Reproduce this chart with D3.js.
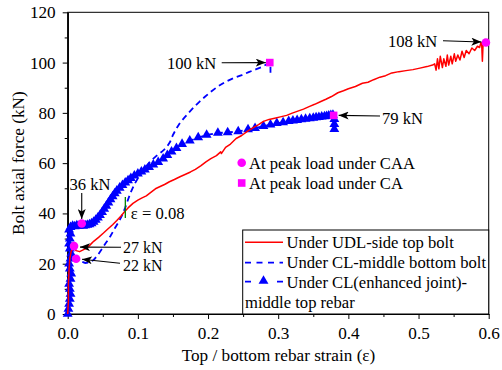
<!DOCTYPE html>
<html>
<head>
<meta charset="utf-8">
<script src="https://cdn.jsdelivr.net/npm/d3@7"></script>
<style>
  html, body { margin: 0; padding: 0; background: #fff; }
  svg { display: block; }
  text { font-family: 'Liberation Serif', 'Times New Roman', serif; fill: #000; }
</style>
</head>
<body>
<svg id="chart" width="502" height="370"></svg>
<script>
// Bolt axial force (kN) against top / bottom rebar strain
const xTicks = [0, 0.1, 0.2, 0.3, 0.4, 0.5, 0.6];
const yTicks = [0, 20, 40, 60, 80, 100, 120];

// Under UDL - side top bolt  [strain, force]
const udlTopBolt = [
  [0.000,0],[0.001,5],[0.001,12],[0.002,18],[0.003,22],[0.005,25],[0.008,26.2],[0.012,25.2],
  [0.017,24.8],[0.022,25.5],[0.027,26.2],[0.032,27.5],[0.037,28.9],[0.044,30.5],[0.051,32.2],
  [0.058,34],[0.064,35.5],[0.070,37.2],[0.076,39],[0.081,40.7],[0.086,42.2],[0.093,44],
  [0.100,45.3],[0.106,46.2],[0.112,47],[0.118,48.3],[0.125,49.8],[0.131,50.6],[0.138,51.5],
  [0.145,52.6],[0.152,53.5],[0.160,54.6],[0.168,55.6],[0.175,56.5],[0.182,57.5],[0.190,59],
  [0.197,60.5],[0.204,61.8],[0.212,63],[0.218,64.5],[0.219,63.8],[0.225,66.3],[0.232,67.6],
  [0.240,69.8],[0.248,71],[0.256,72.6],[0.264,74],[0.272,75.3],[0.279,76.6],[0.287,77.4],
  [0.295,77.9],[0.303,78.4],[0.312,79],[0.320,79.9],[0.328,80.7],[0.336,81.5],[0.344,82.5],
  [0.352,83.4],[0.360,84.4],[0.368,85.4],[0.376,86.5],[0.385,88],[0.393,88.8],[0.400,89.6],
  [0.410,90.5],[0.420,91.8],[0.428,92.2],[0.436,93.2],[0.445,94.2],[0.453,94.8],[0.462,95.9],
  [0.472,96.4],[0.482,96.8],[0.492,97.2],[0.502,97.8],[0.512,98.4],[0.520,99],
  [0.523,99.5],[0.525,97],[0.527,101.5],[0.529,97.5],[0.531,102.5],[0.534,98],[0.536,101.5],
  [0.539,98.5],[0.541,103],[0.543,99],[0.546,102.5],[0.548,99.5],[0.551,103.5],[0.553,100.5],
  [0.556,103],[0.559,101],[0.562,104.5],[0.565,102],[0.568,104.8],[0.572,103.5],
  [0.576,105.8],[0.580,104.8],[0.584,106.5],[0.587,106],[0.589,108],[0.590,107.5],[0.591,100.5],
  [0.592,107.5],[0.596,108]
];

// Under CL - middle bottom bolt
const clBottomBolt = [
  [0.000,0],[0.001,6],[0.002,12],[0.003,18],[0.004,22],[0.007,23],[0.012,22],[0.018,21],
  [0.025,20.3],[0.031,20.5],[0.037,21.5],[0.043,23.5],[0.049,26],[0.055,28.5],[0.061,31],
  [0.067,34],[0.073,36.8],[0.078,39.5],[0.082,42.3],[0.086,45.5],[0.090,48.5],[0.095,51.5],
  [0.100,54],[0.106,56.5],[0.112,58.8],[0.118,60.8],[0.126,62.8],[0.134,64.5],[0.141,66.3],
  [0.146,68.5],[0.150,71.2],[0.155,73.8],[0.160,76],[0.166,78],[0.173,80.2],[0.180,82.3],
  [0.188,84.5],[0.196,86.5],[0.205,88.6],[0.214,90.5],[0.224,92.2],[0.236,93.8],[0.248,95],
  [0.258,96.2],[0.268,97.3],[0.276,98.2],[0.283,99.2],[0.287,100],[0.289,98.5],[0.289,96]
];

// Under CL (enhanced joint) - middle top rebar
const clEnhancedTopRebar = [
  [0.000,0],[0.001,2],[0.002,4],[0.003,6],[0.004,8],[0.003,10],[0.002,12],[0.004,14],
  [0.005,16],[0.003,18],[0.002,20],[0.004,22],[0.005,24],[0.003,26],[0.002,28],[0.003,30],
  [0.004,32],[0.002,33.5],[0.004,34.5],[0.007,35],[0.010,34.8],[0.013,35.2],[0.016,35],
  [0.019,35.4],[0.022,35],[0.025,35.2],[0.028,35.4],[0.031,35.6],[0.034,36],[0.037,36.6],
  [0.040,37.4],[0.043,38.3],[0.046,39.3],[0.049,40.5],[0.052,41.8],[0.055,43],[0.058,44.3],
  [0.061,45.6],[0.064,46.8],[0.067,48],[0.070,49],[0.074,50.2],[0.078,51.2],[0.082,52.2],
  [0.086,53.1],[0.090,54],[0.095,55],[0.100,55.8],[0.105,56.6],[0.110,57.4],[0.116,58.4],
  [0.122,59.4],[0.129,60.4],[0.136,61.8],[0.142,63.2],[0.148,64.6],[0.155,66],[0.163,67.6],
  [0.174,68.9],[0.186,70.2],[0.198,71.2],[0.214,72],[0.228,72.2],[0.243,72.6],[0.257,73.4],
  [0.267,73.9],[0.279,74.7],[0.289,75.3],[0.298,75.9],[0.307,76.2],[0.315,76.7],[0.321,76.9],
  [0.327,77.1],[0.333,77.4],[0.339,77.6],[0.345,77.8],[0.350,78],[0.354,78.2],[0.358,78.3],
  [0.362,78.5],[0.366,78.6],[0.369,78.7],[0.372,78.9],[0.375,79.1],[0.378,79.2],[0.380,77.5],
  [0.380,75.5],[0.380,73.5]
];

// Peak-load points
const peakCAA = [[0.020,36],[0.009,27],[0.012,22],[0.596,108]];
const peakCA = [[0.288,100],[0.379,79]];

const seriesLabels = ["Under UDL-side top bolt", "Under CL-middle bottom bolt",
                      "Under CL(enhanced joint)-", "middle top rebar"];
const peakLabels = ["At peak load under CAA", "At peak load under CA"];

const plot = { left: 67.7, right: 488.7, top: 12.3, bottom: 314 };
const svg = d3.select("#chart");
const FS = 16.6;

const x = d3.scaleLinear().domain([0, 0.6]).range([plot.left, plot.right]);
const y = d3.scaleLinear().domain([0, 120]).range([plot.bottom, plot.top]);

const RED = "#ff0000", BLUE = "#0000ff", MAG = "#ff00ff";

// arrowhead
svg.append("defs").append("marker")
  .attr("id", "arrow").attr("viewBox", "0 0 10 8")
  .attr("refX", 10).attr("refY", 4)
  .attr("markerWidth", 10).attr("markerHeight", 8)
  .attr("markerUnits", "userSpaceOnUse").attr("orient", "auto")
  .append("path").attr("d", "M0,0L10,4L0,8L2.5,4Z").attr("fill", "#000");

// frame
svg.append("rect")
  .attr("x", plot.left).attr("y", plot.top)
  .attr("width", plot.right - plot.left).attr("height", plot.bottom - plot.top)
  .attr("fill", "none").attr("stroke", "#000").attr("stroke-width", 1);

// axes
const xAxis = svg.append("g").attr("transform", `translate(0,${plot.bottom})`)
  .call(d3.axisBottom(x).tickValues(xTicks).tickFormat(d3.format(".1f"))
    .tickSize(5).tickSizeOuter(0).tickPadding(7.5));
const xMinor = svg.append("g").attr("transform", `translate(0,${plot.bottom})`)
  .call(d3.axisBottom(x).tickValues(d3.range(0.05, 0.6, 0.1)).tickFormat("")
    .tickSize(3).tickSizeOuter(0));
const yAxis = svg.append("g").attr("transform", `translate(${plot.left},0)`)
  .call(d3.axisLeft(y).tickValues(yTicks).tickSize(5).tickSizeOuter(0).tickPadding(7));
const yMinor = svg.append("g").attr("transform", `translate(${plot.left},0)`)
  .call(d3.axisLeft(y).tickValues(d3.range(10, 120, 20)).tickFormat("")
    .tickSize(3).tickSizeOuter(0));
[xAxis, xMinor, yAxis, yMinor].forEach(g => {
  g.select(".domain").attr("stroke", "#000").attr("stroke-width", 1.2);
  g.selectAll(".tick line").attr("stroke", "#000").attr("stroke-width", 1);
  g.selectAll("text").attr("font-size", 17.2)
    .attr("font-family", "'Liberation Serif','Times New Roman',serif").attr("fill", "#000");
});

// axis titles
svg.append("text").attr("x", 278.5).attr("y", 361)
  .attr("text-anchor", "middle").attr("font-size", 17.2)
  .text("Top / bottom rebar strain (ε)");
svg.append("text")
  .attr("transform", `translate(24,${(plot.top + plot.bottom) / 2}) rotate(-90)`)
  .attr("text-anchor", "middle").attr("font-size", 17.2)
  .text("Bolt axial force (kN)");

const line = d3.line().x(d => x(d[0])).y(d => y(d[1]));

// CL enhanced joint: dashed line with triangle markers
svg.append("path").datum(clEnhancedTopRebar).attr("d", line)
  .attr("fill", "none").attr("stroke", BLUE).attr("stroke-width", 1.8)
  .attr("stroke-dasharray", "6,4");
const tri = d3.symbol(d3.symbolTriangle).size(42);
svg.append("g").selectAll("path").data(clEnhancedTopRebar).join("path")
  .attr("d", tri).attr("fill", BLUE)
  .attr("transform", d => `translate(${x(d[0])},${y(d[1])})`);

// CL middle bottom bolt
svg.append("path").datum(clBottomBolt).attr("d", line)
  .attr("fill", "none").attr("stroke", BLUE).attr("stroke-width", 1.8)
  .attr("stroke-dasharray", "6,4");

// UDL side top bolt
svg.append("path").datum(udlTopBolt).attr("d", line)
  .attr("fill", "none").attr("stroke", RED).attr("stroke-width", 1.5)
  .attr("stroke-linejoin", "round");

// peak markers
svg.append("g").selectAll("circle").data(peakCAA).join("circle")
  .attr("cx", d => x(d[0])).attr("cy", d => y(d[1])).attr("r", 4.3).attr("fill", MAG);
svg.append("g").selectAll("rect").data(peakCA).join("rect")
  .attr("x", d => x(d[0]) - 3.8).attr("y", d => y(d[1]) - 3.8)
  .attr("width", 7.6).attr("height", 7.6).attr("fill", MAG);

// strain marker at 0.08
const epsMark = 0.08;
svg.append("line").attr("x1", x(epsMark) + 1.5).attr("x2", x(epsMark) + 1.5)
  .attr("y1", 197).attr("y2", 218)
  .attr("stroke", "#008000").attr("stroke-width", 1.3);
svg.append("text").attr("x", x(epsMark) + 7).attr("y", 218.5).attr("font-size", FS)
  .text(`ε = ${epsMark.toFixed(2)}`);

// value call-outs
const callouts = [
  { pt: peakCA[0],  fs: FS, tx: 167, ty: 68.5, a: [221.7, 62.7, x(peakCA[0][0]) - 4, y(peakCA[0][1])] },
  { pt: peakCAA[3], fs: FS, tx: 388, ty: 47,   a: [443, 40.7, x(peakCAA[3][0]) - 4.5, y(peakCAA[3][1]) - 0.5] },
  { pt: peakCA[1],  fs: FS, tx: 382, ty: 123.5, a: [380, 116, x(peakCA[1][0]) + 5, y(peakCA[1][1])] },
  { pt: peakCAA[0], fs: FS, tx: 69.5, ty: 190, a: [x(peakCAA[0][0]), 193, x(peakCAA[0][0]), y(peakCAA[0][1]) - 4.5] },
  { pt: peakCAA[1], fs: 16, tx: 123, ty: 252.5, a: [121, 247.3, 80, y(peakCAA[1][1]) + 1] },
  { pt: peakCAA[2], fs: 16, tx: 123, ty: 270.8, a: [120, 263.3, 82, y(peakCAA[2][1]) + 0.5] }
];
callouts.forEach(c => {
  svg.append("text").attr("x", c.tx).attr("y", c.ty).attr("font-size", c.fs)
    .text(`${c.pt[1]} kN`);
  svg.append("line")
    .attr("x1", c.a[0]).attr("y1", c.a[1]).attr("x2", c.a[2]).attr("y2", c.a[3])
    .attr("stroke", "#000").attr("stroke-width", 1.1).attr("marker-end", "url(#arrow)");
});

// peak-load legend
const pk = svg.append("g");
pk.append("circle").attr("cx", 241.7).attr("cy", 162.7).attr("r", 4.3).attr("fill", MAG);
pk.append("rect").attr("x", 241.7 - 3.8).attr("y", 183 - 3.8).attr("width", 7.6).attr("height", 7.6).attr("fill", MAG);
pk.append("text").attr("x", 249).attr("y", 168.5).attr("font-size", FS).text(peakLabels[0]);
pk.append("text").attr("x", 249).attr("y", 189).attr("font-size", FS).text(peakLabels[1]);

// series legend
const lg = svg.append("g");
lg.append("rect").attr("x", 242.7).attr("y", 230).attr("width", plot.right - 242.7).attr("height", plot.bottom - 230)
  .attr("fill", "#fff").attr("stroke", "#000").attr("stroke-width", 1);
lg.append("line").attr("x1", 245).attr("x2", 283).attr("y1", 242.3).attr("y2", 242.3)
  .attr("stroke", RED).attr("stroke-width", 1.5);
lg.append("line").attr("x1", 245).attr("x2", 283).attr("y1", 262.7).attr("y2", 262.7)
  .attr("stroke", BLUE).attr("stroke-width", 1.8).attr("stroke-dasharray", "6,5.5");
lg.append("line").attr("x1", 245).attr("x2", 283).attr("y1", 281.7).attr("y2", 281.7)
  .attr("stroke", BLUE).attr("stroke-width", 1.8).attr("stroke-dasharray", "6,26");
lg.append("path").attr("d", tri).attr("fill", BLUE).attr("transform", "translate(263.5,281)");
lg.append("text").attr("x", 286.5).attr("y", 247.5).attr("font-size", FS).text(seriesLabels[0]);
lg.append("text").attr("x", 286.5).attr("y", 267.5).attr("font-size", FS).text(seriesLabels[1]);
lg.append("text").attr("x", 286.5).attr("y", 287.5).attr("font-size", FS).text(seriesLabels[2]);
lg.append("text").attr("x", 245).attr("y", 307.5).attr("font-size", FS).text(seriesLabels[3]);
</script>
</body>
</html>
